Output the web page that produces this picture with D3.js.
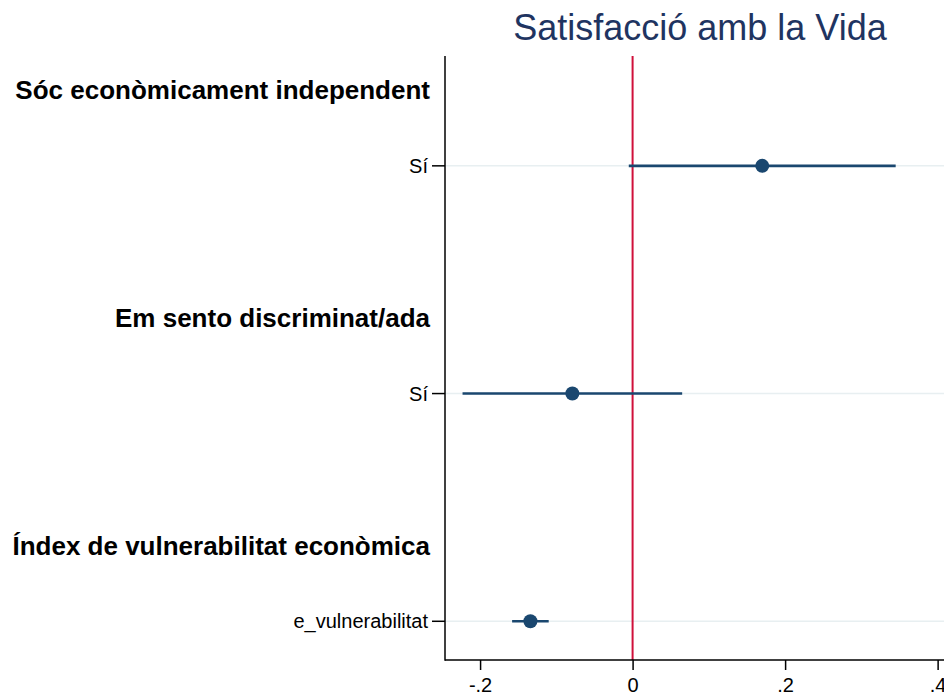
<!DOCTYPE html>
<html><head><meta charset="utf-8">
<script src="https://cdn.jsdelivr.net/npm/d3@7"></script>
<style>body{margin:0;background:#fff}svg{display:block;font-family:"Liberation Sans",Arial,sans-serif}</style>
</head><body>
<svg id="chart" width="944" height="697"></svg>
<script>
const title = "Satisfacció amb la Vida";
const headings = ["Sóc econòmicament independent", "Em sento discriminat/ada", "Índex de vulnerabilitat econòmica"];
const headingSlots = [1, 4, 7];
const itemLabels = ["Sí", "Sí", "e_vulnerabilitat"];
const itemSlots = [2, 5, 8];
const estimates = [0.170, -0.079, -0.134];
const ciLow = [-0.005, -0.223, -0.158];
const ciHigh = [0.345, 0.065, -0.110];
const xTicks = [-0.2, 0, 0.2, 0.4];
const xTickLabels = ["-.2", "0", ".2", ".4"];

const svg = d3.select("#chart");
const x = d3.scaleLinear().domain([-0.246, 0.43]).range([445, 960.5]);
const y = d3.scaleLinear().domain([0.553, 8.51]).range([56, 660]);

const navy = "#1a476f";

// gridlines
svg.append("g").selectAll("line").data(itemSlots).join("line")
  .attr("x1", x.range()[0]).attr("x2", 944)
  .attr("y1", d => y(d)).attr("y2", d => y(d))
  .attr("stroke", "#e8eff1").attr("stroke-width", 1.5);

// zero line
svg.append("line").attr("x1", x(0)).attr("x2", x(0))
  .attr("y1", y(0.553)).attr("y2", y(8.51))
  .attr("stroke", "#d0103a").attr("stroke-width", 2);

// CI lines
const data = itemSlots.map((s, i) => ({s, est: estimates[i], lo: ciLow[i], hi: ciHigh[i]}));
svg.append("g").selectAll("line").data(data).join("line")
  .attr("x1", d => x(d.lo)).attr("x2", d => x(d.hi))
  .attr("y1", d => y(d.s)).attr("y2", d => y(d.s))
  .attr("stroke", navy).attr("stroke-width", 2.6);
svg.append("g").selectAll("circle").data(data).join("circle")
  .attr("cx", d => x(d.est)).attr("cy", d => y(d.s)).attr("r", 7)
  .attr("fill", navy);

// x axis
const xAxis = d3.axisBottom(x).tickValues(xTicks)
  .tickFormat((d, i) => xTickLabels[i]).tickSize(10).tickSizeOuter(0);
const gx = svg.append("g").attr("transform", `translate(0,${y(8.51)})`).call(xAxis);
gx.select(".domain").attr("stroke", "#000").attr("stroke-width", 1.5)
  .attr("d", `M${x.range()[0]},0H944`);
gx.selectAll(".tick line").attr("stroke", "#000").attr("stroke-width", 1.5);
gx.selectAll(".tick text").attr("font-size", 20).attr("fill", "#000").attr("dy", "0.95em")
  .attr("font-family", "Liberation Sans, Arial, sans-serif");

// y axis line
svg.append("line").attr("x1", 445).attr("x2", 445)
  .attr("y1", y(0.553)).attr("y2", y(8.51) + 0.75)
  .attr("stroke", "#000").attr("stroke-width", 1.5);

// item ticks and labels
const gi = svg.append("g");
gi.selectAll("line").data(itemSlots).join("line")
  .attr("x1", 432).attr("x2", 445)
  .attr("y1", d => y(d)).attr("y2", d => y(d))
  .attr("stroke", "#000").attr("stroke-width", 1.5);
gi.selectAll("text").data(itemSlots).join("text")
  .attr("x", 428).attr("y", d => y(d)).attr("dy", "0.35em")
  .attr("text-anchor", "end").attr("font-size", 20).attr("fill", "#000")
  .text((d, i) => itemLabels[i]);

// headings
svg.append("g").selectAll("text").data(headingSlots).join("text")
  .attr("x", 430).attr("y", d => y(d)).attr("dy", "0.36em")
  .attr("text-anchor", "end").attr("font-size", 26).attr("font-weight", "bold").attr("fill", "#000")
  .text((d, i) => headings[i]);

// title
svg.append("text").attr("x", 700).attr("y", 40)
  .attr("text-anchor", "middle").attr("font-size", 36).attr("fill", "#1f3461")
  .text(title);
</script>
</body></html>
